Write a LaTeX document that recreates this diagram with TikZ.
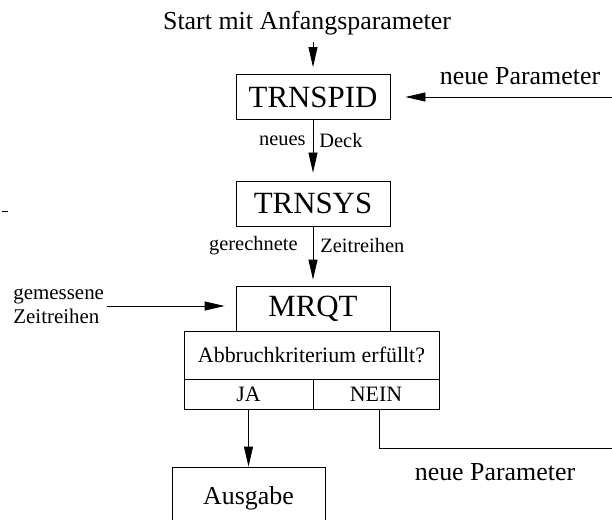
\documentclass[tikz,border=0pt]{standalone}
\usepackage{fontspec}
\setmainfont{Liberation Serif}
\usetikzlibrary{arrows.meta}
\begin{document}
\begin{tikzpicture}[x=1bp,y=-1bp,line width=0.8bp,
  box/.style={draw,minimum width=154bp,minimum height=45bp,inner sep=0pt,font=\fontsize{31}{36}\selectfont},
  cell/.style={draw,inner sep=0pt,font=\fontsize{22}{26}\selectfont},
  lbl/.style={inner sep=0pt,font=\fontsize{20.5}{24}\selectfont},
  big/.style={inner sep=0pt,font=\fontsize{26}{30}\selectfont},
  arr/.style={-{Triangle[length=20bp,width=9bp]}}]
  \clip (0,0) rectangle (612,520);
  % Programmkette
  \node[big,anchor=base] (start) at (307,30) {Start mit Anfangsparameter};
  \node[box] (trnspid) at (313,97) {TRNSPID};
  \node[box] (trnsys) at (313,203.5) {TRNSYS};
  \node[box] (mrqt) at (313,308.5) {MRQT};
  \node[cell,minimum width=255bp,minimum height=48bp] (abbr) at (311.5,355) {Abbruchkriterium erfüllt?};
  \node[cell,minimum width=129bp,minimum height=30bp] (ja) at (248.5,394) {JA};
  \node[cell,minimum width=126bp,minimum height=30bp] (nein) at (376,394) {NEIN};
  \node[box,font=\fontsize{26}{30}\selectfont,minimum width=153bp,minimum height=63bp] (ausgabe) at (248.5,498.5) {Ausgabe};
  \node[lbl,font=\fontsize{21}{24}\selectfont,align=left,anchor=west] (gem) at (13,306) {gemessene\\Zeitreihen};
  \node[big] (np1lbl) at (520,76) {neue Parameter};
  \node[big] (np2lbl) at (495,472) {neue Parameter};
  \coordinate (np1) at (612,97);
  \coordinate (np2) at (612,448);
  % Pfeile
  \draw[arr,shorten <=6.5bp,shorten >=7bp] (start.south -| trnspid.north) -- (trnspid.north);
  \draw[arr,shorten >=8bp] (trnspid) -- (trnsys)
    node[lbl,pos=.34,left=7bp]{neues} node[lbl,pos=.34,right=6bp]{Deck};
  \draw[arr,shorten >=6bp] (trnsys) -- (mrqt)
    node[lbl,pos=.32,left=15bp]{gerechnete} node[lbl,pos=.32,right=7bp]{Zeitreihen};
  \draw[arr,shorten <=3bp,shorten >=11bp] (gem.east) -- (gem.east -| mrqt.west);
  \draw[arr,shorten >=15bp] (np1) -- (trnspid.east);
  \draw[arr] (ja) -- (ausgabe);
  \draw ([xshift=3bp]nein.south) |- (np2);
  \draw (2,211) -- (8,211);
\end{tikzpicture}
\end{document}
